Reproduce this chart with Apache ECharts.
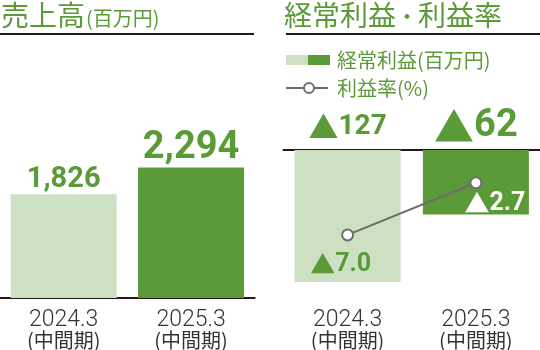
<!DOCTYPE html>
<html>
<head>
<meta charset="utf-8">
<script src="https://cdn.jsdelivr.net/npm/echarts@6/dist/echarts.min.js"></script>
<style>
html,body{margin:0;padding:0;background:#fff;}
#c{width:540px;height:350px;}
</style>
</head>
<body>
<div id="c"></div>
<script>
// ---- data ----
var categories = ['2024.3', '2025.3'];
var categorySub = ['(中間期)', '(中間期)'];
var salesValues = [1826, 2294];
var profitValues = [-127, -62];
var marginValues = [-7.0, -2.7];
var barColors = ['#cde0c4', '#5a9a37'];

var GREEN = '#5a9a37';
var DARK = '#231815';
var GREY = '#6d6d6d';
var CJK = '"Noto Sans CJK JP", "Noto Sans", sans-serif';
var NUM = 'Roboto, "Liberation Sans", sans-serif';

function fmt(v, digits) {
  var a = Math.abs(v);
  var s = digits != null ? a.toFixed(digits) : a.toLocaleString('en-US');
  return v < 0 ? '{t|▲}{n|' + s + '}' : '{n|' + s + '}';
}

var catLabels = categories.map(function (c, i) { return c + '\n' + categorySub[i]; });

var axisLabelCfg = {
  margin: 11,
  formatter: function (v) {
    var p = v.split('\n');
    return '{a|' + p[0] + '}\n{b|' + p[1] + '}';
  },
  rich: {
    a: { fontFamily: NUM, fontWeight: 300, fontSize: 23, color: '#333', lineHeight: 22 },
    b: { fontFamily: CJK, fontSize: 20, color: '#333', lineHeight: 18 }
  }
};

var chart = echarts.init(document.getElementById('c'), null, { renderer: 'canvas' });

var sizesSales = [29, 38];
var sizesProfit = [28, 38];
var profitLabelGap = [8, 3];

var option = {
  animation: false,
  grid: [
    { left: -2.25, width: 257, top: 70.6, height: 228.4 },
    { left: 283.5, width: 262, top: 150, height: 149 }
  ],
  xAxis: [
    { gridIndex: 0, type: 'category', data: catLabels,
      axisLine: { lineStyle: { color: DARK, width: 2 } }, axisTick: { show: false },
      axisLabel: axisLabelCfg },
    { gridIndex: 1, type: 'category', data: catLabels, position: 'bottom',
      axisLine: { show: false, onZero: false }, axisTick: { show: false },
      axisLabel: axisLabelCfg },
    { gridIndex: 1, type: 'category', data: catLabels, position: 'top',
      axisLine: { onZero: false, lineStyle: { color: DARK, width: 2 } }, axisTick: { show: false },
      axisLabel: { show: false } }
  ],
  yAxis: [
    { gridIndex: 0, type: 'value', min: 0, max: 4000, show: false, splitLine: { show: false } },
    { gridIndex: 1, type: 'value', min: -142.3, max: 0, show: false, splitLine: { show: false } },
    { gridIndex: 1, type: 'value', min: -12.2, max: 0, show: false, splitLine: { show: false } }
  ],
  series: [
    { type: 'bar', xAxisIndex: 0, yAxisIndex: 0, barWidth: 106,
      data: salesValues.map(function (v, i) {
        return { value: v, itemStyle: { color: barColors[i] },
          label: { rich: { n: { fontFamily: NUM, fontWeight: 'bold', fontSize: sizesSales[i], color: GREEN } } } };
      }),
      label: { show: true, position: 'top', distance: 0,
        formatter: function (p) { return fmt(p.value); } }
    },
    { type: 'bar', xAxisIndex: 1, yAxisIndex: 1, barWidth: 106,
      data: profitValues.map(function (v, i) { return { value: v, itemStyle: { color: barColors[i] } }; })
    },
    { type: 'scatter', xAxisIndex: 1, yAxisIndex: 1, symbolSize: 1,
      itemStyle: { color: 'rgba(255,255,255,0)', opacity: 1 }, z: 5,
      data: profitValues.map(function (v, i) {
        return { value: [i, 0], raw: v,
          label: { distance: profitLabelGap[i], rich: {
            t: { fontFamily: CJK, fontSize: sizesProfit[i] + 2, color: GREEN },
            n: { fontFamily: NUM, fontWeight: 'bold', fontSize: sizesProfit[i], color: GREEN } } } };
      }),
      label: { show: true, position: 'top', color: GREEN, opacity: 1,
        formatter: function (p) { return fmt(p.data.raw); } }
    },
    { type: 'line', xAxisIndex: 1, yAxisIndex: 2, z: 6,
      lineStyle: { color: GREY, width: 2 },
      symbol: 'circle', symbolSize: 11,
      itemStyle: { color: '#fff', borderColor: GREY, borderWidth: 2 },
      data: marginValues.map(function (v, i) {
        var col = i === 0 ? GREEN : '#fff';
        return { value: v,
          label: { offset: i === 0 ? [-7, 5] : [19, -4],
            rich: {
              t: { fontFamily: CJK, fontSize: 25, color: col },
              n: { fontFamily: NUM, fontWeight: 'bold', fontSize: 25, color: col } } } };
      }),
      label: { show: true, position: 'bottom', distance: 6,
        formatter: function (p) { return fmt(p.value, 1); } }
    }
  ],
  graphic: [
    { type: 'text', silent: true, z: 10, position: [1, 15.5],
      style: { text: '売上高', fontFamily: CJK, fontSize: 28, fill: GREEN, textVerticalAlign: 'middle', textAlign: 'left' } },
    { type: 'text', silent: true, z: 10, position: [86, 18.5],
      style: { text: '(百万円)', fontFamily: CJK, fontSize: 20, fill: GREEN, textVerticalAlign: 'middle', textAlign: 'left' } },
    { type: 'text', silent: true, z: 10, position: [284, 15.5],
      style: { text: '{a|経常利益}{d|・}{a|利益率}', textVerticalAlign: 'middle', textAlign: 'left',
        rich: {
          a: { fontFamily: CJK, fontSize: 28, fill: GREEN, color: GREEN },
          d: { fontFamily: CJK, fontSize: 22, fill: GREEN, color: GREEN, verticalAlign: 'middle' }
        } } },
    { type: 'line', silent: true, shape: { x1: 0, y1: 34, x2: 254, y2: 34 }, style: { stroke: DARK, lineWidth: 2 } },
    { type: 'line', silent: true, shape: { x1: 286, y1: 34, x2: 540, y2: 34 }, style: { stroke: DARK, lineWidth: 2 } },
    { type: 'rect', silent: true, shape: { x: 286, y: 55, width: 22, height: 10 }, style: { fill: barColors[0] } },
    { type: 'rect', silent: true, shape: { x: 308, y: 55, width: 22, height: 10 }, style: { fill: barColors[1] } },
    { type: 'text', silent: true, position: [337, 60.5],
      style: { text: '経常利益(百万円)', fontFamily: CJK, fontSize: 20, fill: GREEN, textVerticalAlign: 'middle', textAlign: 'left' } },
    { type: 'line', silent: true, shape: { x1: 286, y1: 88, x2: 328, y2: 88 }, style: { stroke: GREY, lineWidth: 2 } },
    { type: 'circle', silent: true, shape: { cx: 309, cy: 88, r: 5 }, style: { fill: '#fff', stroke: GREY, lineWidth: 2 } },
    { type: 'text', silent: true, position: [337, 88],
      style: { text: '利益率(%)', fontFamily: CJK, fontSize: 20, fill: GREEN, textVerticalAlign: 'middle', textAlign: 'left' } }
  ]
};
chart.setOption(option);
</script>
</body>
</html>
